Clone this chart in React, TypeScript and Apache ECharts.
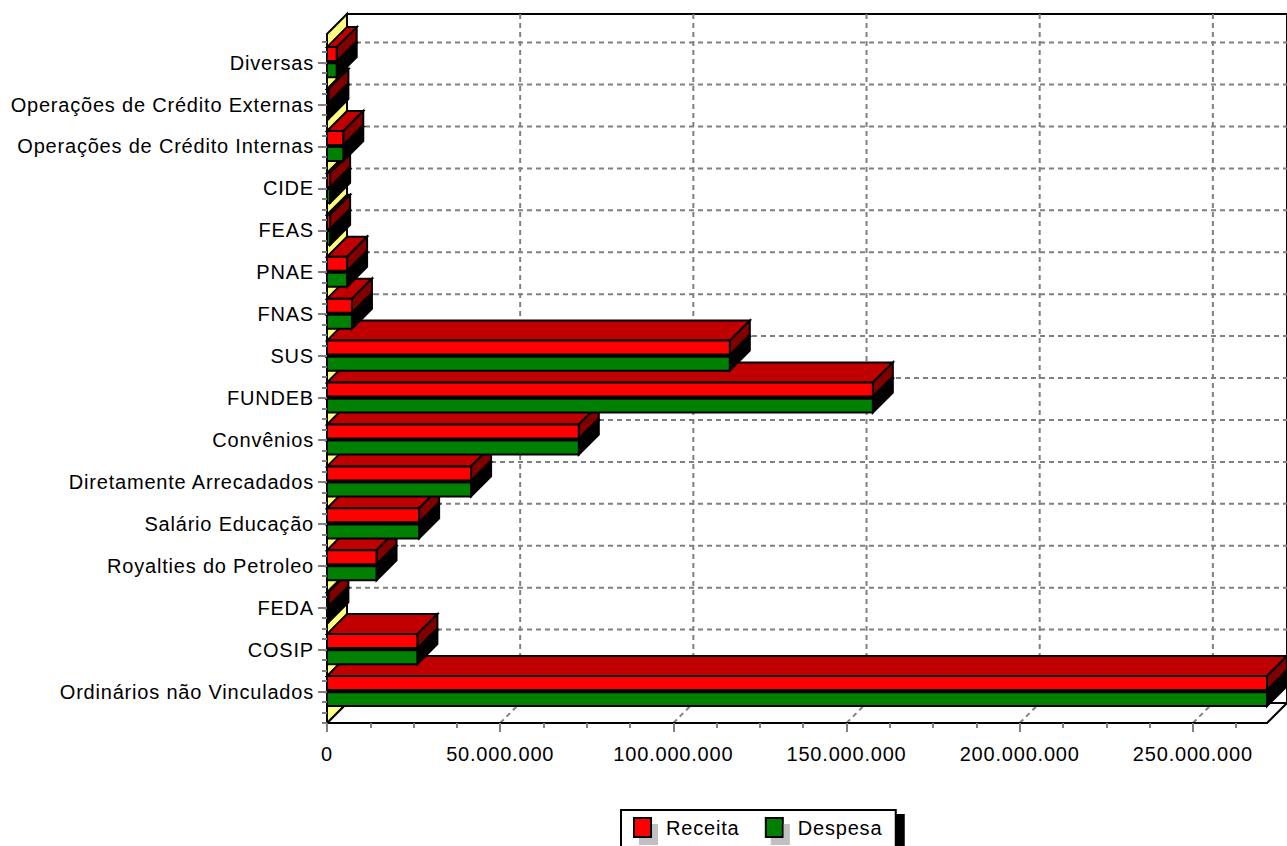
import React, { useEffect, useRef } from "react";
import * as echarts from "echarts";

const categories = [
  "Ordinários não Vinculados", "COSIP", "FEDA", "Royalties do Petroleo", "Salário Educação",
  "Diretamente Arrecadados", "Convênios", "FUNDEB", "SUS", "FNAS", "PNAE", "FEAS", "CIDE",
  "Operações de Crédito Internas", "Operações de Crédito Externas", "Diversas",
];
const receita = [271400000, 26100000, 400000, 14300000, 26600000, 41600000, 72700000, 157600000, 116300000, 7200000, 5800000, 900000, 900000, 4700000, 400000, 2800000];
const despesa = [271400000, 26100000, 400000, 14300000, 26600000, 41600000, 72700000, 157600000, 116300000, 7200000, 5800000, 900000, 900000, 4700000, 400000, 2800000];
const xMajorTicks = [0, 50000000, 100000000, 150000000, 200000000, 250000000];
const xMinorTicks = Array.from({ length: 22 }, (_, k) => k * 12500000);
const yMinorTicks = Array.from({ length: 66 }, (_, k) => -0.75 + k * 0.25);
const yMajorTicks = categories.map((_, k) => k);

const X_MAX = 271400000;
const Y_MIN = -0.75;
const Y_MAX = 15.682;
const DEPTH = 20;
const FONT = "Liberation Sans";
const GRID_GRAY = "#808080";

const poly = (points: number[][], fill: string, z2: number, lineWidth = 2) => ({
  type: "polygon",
  z2,
  shape: { points },
  style: { fill, stroke: "#000", lineWidth, lineJoin: "miter" },
});
const dashed = (x1: number, y1: number, x2: number, y2: number) => ({
  type: "line",
  z2: 2,
  shape: { x1, y1, x2, y2 },
  style: { stroke: GRID_GRAY, lineWidth: 2, lineDash: [5, 4] },
});

function renderWalls(_p: any, api: any) {
  const [l, b] = api.coord([0, Y_MIN]);
  const [r, t] = api.coord([X_MAX, Y_MAX]);
  const children: any[] = [];
  children.push(poly([[l + DEPTH, t - DEPTH], [r + DEPTH, t - DEPTH], [r + DEPTH, b - DEPTH], [l + DEPTH, b - DEPTH]], "#fff", 0, 2));
  children.push(poly([[l, b], [l + DEPTH, b - DEPTH], [r + DEPTH, b - DEPTH], [r, b]], "#fff", 1, 2));
  for (const v of xMajorTicks) {
    const x = api.coord([v, Y_MIN])[0];
    if (v > 0) {
      children.push(dashed(x + DEPTH, t - DEPTH, x + DEPTH, b - DEPTH));
      children.push(dashed(x, b, x + DEPTH, b - DEPTH));
    }
  }
  for (const i of yMajorTicks) {
    const y = api.coord([0, i])[1];
    children.push(dashed(l + DEPTH, y - DEPTH, r + DEPTH, y - DEPTH));
  }
  children.push(poly([[l, t], [l + DEPTH, t - DEPTH], [l + DEPTH, b - DEPTH], [l, b]], "#ffff80", 3, 2));
  return { type: "group", children };
}

const barRender = (isRed: boolean) => (_p: any, api: any) => {
  const v = api.value(0);
  const i = api.value(1);
  const hi = isRed ? i + 0.37 : i - 0.014;
  const lo = isRed ? i + 0.036 : i - 0.347;
  const [l, top] = api.coord([0, hi]);
  const [r, bottom] = api.coord([v, lo]);
  const base = 10 + i * 10;
  const children: any[] = [];
  if (isRed) {
    children.push(poly([[l, top], [l + DEPTH, top - DEPTH], [r + DEPTH, top - DEPTH], [r, top]], "#c00000", base + 5));
    children.push(poly([[r, top], [r + DEPTH, top - DEPTH], [r + DEPTH, bottom - DEPTH], [r, bottom]], "#800000", base + 6));
    children.push(poly([[l, top], [r, top], [r, bottom], [l, bottom]], "#ff0000", base + 7));
  } else {
    children.push(poly([[l, top], [l + DEPTH, top - DEPTH], [r + DEPTH, top - DEPTH], [r, top]], "#000", base + 1));
    children.push(poly([[r, top], [r + DEPTH, top - DEPTH], [r + DEPTH, bottom - DEPTH], [r, bottom]], "#000", base + 2));
    children.push(poly([[l, top], [r, top], [r, bottom], [l, bottom]], "#008000", base + 3));
  }
  return { type: "group", children };
};

const formatMoney = (v: number) => String(v).replace(/\B(?=(\d{3})+(?!\d))/g, ".");

export default function App() {
  const ref = useRef<HTMLDivElement>(null);
  useEffect(() => {
    document.body.style.margin = "0";
    const chart = echarts.init(ref.current!, undefined, { renderer: "svg" });
    const textStyle = { fontFamily: FONT, fontSize: 20, color: "#000" };
    const xBase = { type: "value", min: 0, max: X_MAX, position: "bottom", z: 5, splitLine: { show: false } };
    const yBase = { type: "value", min: Y_MIN, max: Y_MAX, position: "left", z: 5, splitLine: { show: false } };
    chart.setOption({
      animation: false,
      backgroundColor: "#fff",
      grid: { left: 327, top: 34, width: 940, height: 689, containLabel: false },
      legend: {
        show: true,
        left: 621,
        top: 810,
        orient: "horizontal",
        padding: [7, 19, 10, 12],
        itemWidth: 17,
        itemHeight: 19,
        itemGap: 31,
        backgroundColor: "#fff",
        borderColor: "#000",
        borderWidth: 2,
        shadowColor: "#000",
        shadowBlur: 0,
        shadowOffsetX: 8,
        shadowOffsetY: 5,
        textStyle: { ...textStyle, padding: [0, 0, 0, 10] },
        data: [
          { name: "Receita", icon: "rect", itemStyle: { color: "#ff0000", borderColor: "#000", borderWidth: 2, shadowColor: "#c0c0c0", shadowBlur: 0, shadowOffsetX: 6, shadowOffsetY: 7 } },
          { name: "Despesa", icon: "rect", itemStyle: { color: "#008000", borderColor: "#000", borderWidth: 2, shadowColor: "#c0c0c0", shadowBlur: 0, shadowOffsetX: 6, shadowOffsetY: 7 } },
        ],
      },
      xAxis: [
        {
          ...xBase,
          axisLine: { show: true, onZero: false, lineStyle: { color: "#000", width: 2 } },
          axisTick: { show: true, length: 5, customValues: xMinorTicks, lineStyle: { color: GRID_GRAY, width: 2 } },
          axisLabel: { show: true, margin: 21, customValues: xMajorTicks, formatter: (v: number) => formatMoney(v), ...textStyle },
        },
        {
          ...xBase,
          axisLine: { show: false, onZero: false },
          axisTick: { show: true, length: 9, customValues: xMajorTicks, lineStyle: { color: GRID_GRAY, width: 2 } },
          axisLabel: { show: false },
        },
      ],
      yAxis: [
        {
          ...yBase,
          axisLine: { show: true, onZero: false, lineStyle: { color: "#000", width: 2 } },
          axisTick: { show: true, length: 5, customValues: yMinorTicks, lineStyle: { color: GRID_GRAY, width: 2 } },
          axisLabel: { show: true, margin: 13, padding: [7, 0, 0, 0], customValues: yMajorTicks, formatter: (v: number) => categories[v] ?? "", ...textStyle },
        },
        {
          ...yBase,
          axisLine: { show: false, onZero: false },
          axisTick: { show: true, length: 9, customValues: yMajorTicks, lineStyle: { color: GRID_GRAY, width: 2 } },
          axisLabel: { show: false },
        },
      ],
      series: [
        { type: "custom", name: "walls", silent: true, z: 1, renderItem: renderWalls, data: [[0, 0]], encode: { x: 0, y: 1 } },
        { type: "custom", name: "Despesa", silent: true, z: 2, itemStyle: { color: "#008000" }, renderItem: barRender(false), data: despesa.map((v, i) => [v, i]), encode: { x: 0, y: 1 } },
        { type: "custom", name: "Receita", silent: true, z: 2, itemStyle: { color: "#ff0000" }, renderItem: barRender(true), data: receita.map((v, i) => [v, i]), encode: { x: 0, y: 1 } },
      ],
    });
    return () => chart.dispose();
  }, []);
  return <div ref={ref} style={{ width: 1287, height: 846, letterSpacing: "0.8px", overflow: "hidden" }} />;
}
